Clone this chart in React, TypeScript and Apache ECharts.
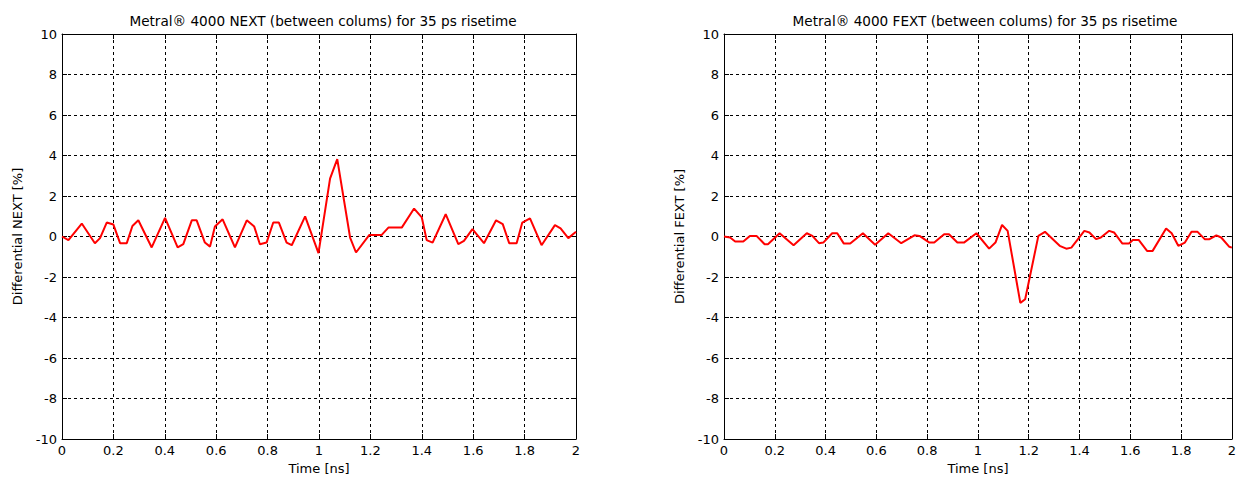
import React, { useEffect, useRef } from "react";
import * as echarts from "echarts";

const nextTitle = "Metral® 4000 NEXT (between colums) for 35 ps risetime";
const fextTitle = "Metral® 4000 FEXT (between colums) for 35 ps risetime";
const xAxisName = "Time [ns]";
const nextYName = "Differential NEXT [%]";
const fextYName = "Differential FEXT [%]";

const nextTime = [0, 0.025, 0.077, 0.128, 0.148, 0.174, 0.2, 0.226, 0.252, 0.274, 0.297, 0.349, 0.401, 0.45, 0.472, 0.505, 0.524, 0.556, 0.576, 0.595, 0.625, 0.673, 0.719, 0.748, 0.77, 0.796, 0.822, 0.844, 0.874, 0.894, 0.946, 0.998, 1.043, 1.071, 1.121, 1.144, 1.196, 1.244, 1.27, 1.322, 1.37, 1.4, 1.419, 1.442, 1.493, 1.542, 1.564, 1.597, 1.642, 1.689, 1.715, 1.74, 1.769, 1.791, 1.821, 1.866, 1.918, 1.94, 1.97, 2.0];
const nextValues = [0, -0.18, 0.64, -0.33, -0.08, 0.69, 0.59, -0.33, -0.33, 0.52, 0.8, -0.54, 0.92, -0.54, -0.38, 0.8, 0.8, -0.3, -0.5, 0.49, 0.85, -0.54, 0.8, 0.49, -0.38, -0.3, 0.69, 0.69, -0.3, -0.43, 0.99, -0.82, 2.86, 3.82, -0.05, -0.79, 0.08, 0.08, 0.44, 0.44, 1.38, 0.94, -0.18, -0.3, 1.1, -0.38, -0.22, 0.36, -0.33, 0.8, 0.61, -0.33, -0.33, 0.69, 0.9, -0.43, 0.56, 0.4, -0.08, 0.23];

const fextTime = [0, 0.024, 0.044, 0.076, 0.102, 0.128, 0.16, 0.173, 0.219, 0.274, 0.326, 0.348, 0.374, 0.391, 0.426, 0.446, 0.472, 0.497, 0.547, 0.595, 0.647, 0.698, 0.75, 0.77, 0.809, 0.828, 0.867, 0.886, 0.919, 0.945, 0.994, 1.044, 1.069, 1.095, 1.117, 1.167, 1.186, 1.238, 1.264, 1.322, 1.348, 1.368, 1.419, 1.439, 1.465, 1.484, 1.517, 1.536, 1.569, 1.595, 1.61, 1.633, 1.666, 1.688, 1.741, 1.763, 1.789, 1.815, 1.841, 1.865, 1.893, 1.912, 1.939, 1.958, 1.99, 2.0];
const fextValues = [0, -0.05, -0.25, -0.25, 0.03, 0.03, -0.38, -0.38, 0.16, -0.43, 0.16, 0.03, -0.33, -0.3, 0.16, 0.16, -0.35, -0.35, 0.16, -0.41, 0.16, -0.33, 0.06, 0.03, -0.3, -0.3, 0.11, 0.11, -0.3, -0.3, 0.16, -0.6, -0.3, 0.57, 0.28, -3.28, -3.1, 0.03, 0.23, -0.46, -0.6, -0.55, 0.28, 0.2, -0.13, -0.05, 0.28, 0.2, -0.35, -0.35, -0.17, -0.17, -0.71, -0.71, 0.4, 0.16, -0.46, -0.3, 0.23, 0.23, -0.13, -0.13, 0.06, -0.05, -0.51, -0.55];

const FONT = "DejaVu Sans, Liberation Sans, Arial, sans-serif";
const FS = 13;

function pairs(xs: number[], ys: number[]) {
  return xs.map((x, i) => [x, ys[i]]);
}

function fmtX(v: number) {
  return String(Math.round(v * 10) / 10);
}

export default function App() {
  const ref = useRef<HTMLDivElement>(null);
  useEffect(() => {
    if (!ref.current) return;
    const chart = echarts.init(ref.current, null, { renderer: "svg" });
    const grids = [
      { left: 62, top: 34, width: 514, height: 405 },
      { left: 724, top: 34, width: 514, height: 405 },
    ];
    const xAxes: any[] = [];
    const yAxes: any[] = [];
    const yNames = [nextYName, fextYName];
    const textStyle = { color: "#000", fontSize: FS, fontFamily: FONT };
    [0, 1].forEach((g) => {
      xAxes.push({
        type: "value",
        gridIndex: g,
        min: 0,
        max: 2,
        interval: 0.2,
        position: "bottom",
        name: xAxisName,
        nameLocation: "middle",
        nameGap: 23,
        nameTextStyle: textStyle,
        axisLine: { show: true, onZero: false, lineStyle: { color: "#000", width: 1 } },
        axisTick: { show: true, inside: true, length: 5, lineStyle: { color: "#000" } },
        axisLabel: { ...textStyle, margin: 5, formatter: fmtX },
        splitLine: { show: true, lineStyle: { color: "#000", type: [3, 3], width: 1 } },
      });
      xAxes.push({
        type: "value",
        gridIndex: g,
        min: 0,
        max: 2,
        interval: 0.2,
        position: "top",
        axisLine: { show: true, onZero: false, lineStyle: { color: "#000", width: 1 } },
        axisTick: { show: true, inside: true, length: 5, lineStyle: { color: "#000" } },
        axisLabel: { show: false },
        splitLine: { show: false },
      });
      yAxes.push({
        type: "value",
        gridIndex: g,
        min: -10,
        max: 10,
        interval: 2,
        position: "left",
        name: yNames[g],
        nameLocation: "middle",
        nameGap: 38,
        nameTextStyle: textStyle,
        axisLine: { show: true, onZero: false, lineStyle: { color: "#000", width: 1 } },
        axisTick: { show: true, inside: true, length: 5, lineStyle: { color: "#000" } },
        axisLabel: { ...textStyle, margin: 5 },
        splitLine: { show: true, lineStyle: { color: "#000", type: [3, 3], width: 1 } },
      });
      yAxes.push({
        type: "value",
        gridIndex: g,
        min: -10,
        max: 10,
        interval: 2,
        position: "right",
        axisLine: { show: true, onZero: false, lineStyle: { color: "#000", width: 1 } },
        axisTick: { show: true, inside: true, length: 5, lineStyle: { color: "#000" } },
        axisLabel: { show: false },
        splitLine: { show: false },
      });
    });
    const titleStyle = { ...textStyle, fontSize: 13.6, fontWeight: "normal" };
    chart.setOption({
      animation: false,
      backgroundColor: "#fff",
      title: [
        { text: nextTitle, left: 318, top: 9, textAlign: "center", textStyle: titleStyle },
        { text: fextTitle, left: 980, top: 9, textAlign: "center", textStyle: titleStyle },
      ],
      grid: grids,
      xAxis: xAxes,
      yAxis: yAxes,
      series: [
        {
          type: "line",
          xAxisIndex: 0,
          yAxisIndex: 0,
          data: pairs(nextTime, nextValues),
          showSymbol: false,
          lineStyle: { color: "#ff0000", width: 2 },
        },
        {
          type: "line",
          xAxisIndex: 2,
          yAxisIndex: 2,
          data: pairs(fextTime, fextValues),
          showSymbol: false,
          lineStyle: { color: "#ff0000", width: 2 },
        },
      ],
    });
    return () => chart.dispose();
  }, []);
  return (
    <div
      ref={ref}
      style={{ position: "fixed", left: 0, top: 0, width: 1239, height: 482, background: "#fff" }}
    />
  );
}
